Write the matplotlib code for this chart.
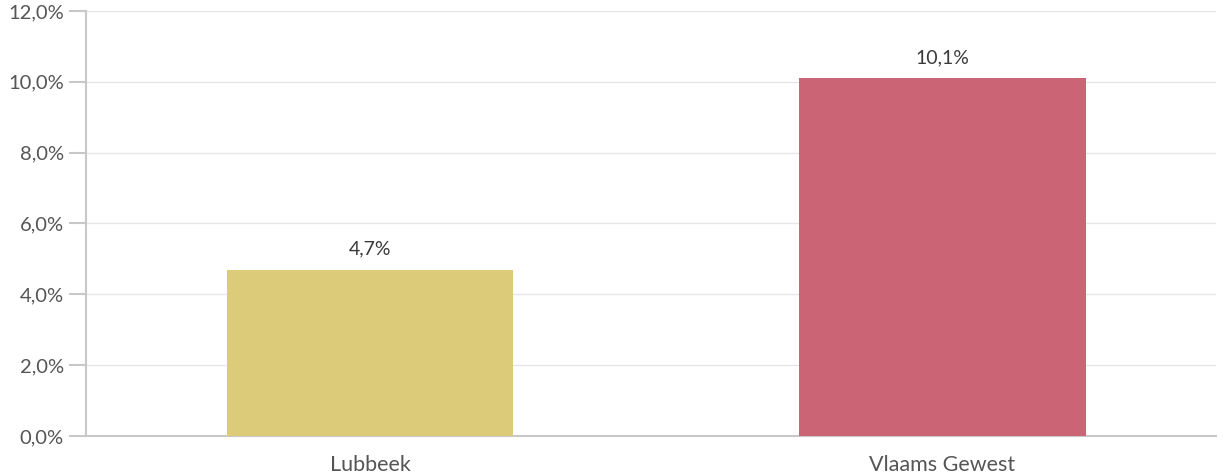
import matplotlib
matplotlib.use("Agg")
import matplotlib.pyplot as plt
from matplotlib.ticker import FuncFormatter

categories = ["Lubbeek", "Vlaams Gewest"]
values = [4.7, 10.1]
colors = ["#DCCB79", "#CB6575"]
yticks = [0, 2, 4, 6, 8, 10, 12]

plt.rcParams['font.family'] = ['Lato', 'DejaVu Sans']

fig = plt.figure(figsize=(12.26, 4.74), dpi=100)
ax = fig.add_axes([86/1226, 38/474, (1216-86)/1226, (436-11)/474])

x = list(range(len(categories)))
bars = ax.bar(x, values, width=0.5, color=colors, zorder=3)
for xi, v in zip(x, values):
    ax.text(xi, v + 0.35, f"{v:.1f}%".replace(".", ","), ha="center", va="bottom",
            fontsize=14, color="#3a3a3a")

ax.set_xlim(-0.497, 1.478)
ax.set_ylim(0, 12)
ax.set_yticks(yticks)
ax.yaxis.set_major_formatter(FuncFormatter(lambda v, p: f"{v:.1f}%".replace(".", ",")))
ax.set_xticks(x)
ax.set_xticklabels(categories)
ax.grid(axis="y", color="#e6e6e6", linewidth=1, zorder=0)
for s in ["top", "right"]:
    ax.spines[s].set_visible(False)
ax.spines["left"].set_color("#c8c8c8")
ax.spines["left"].set_linewidth(1.5)
ax.spines["bottom"].set_color("#c8c8c8")
ax.spines["bottom"].set_linewidth(1.5)
ax.tick_params(axis="y", length=12, width=1.5, color="#c8c8c8", labelsize=14.5,
               labelcolor="#555555", pad=4)
ax.tick_params(axis="x", length=0, labelsize=15.5, labelcolor="#555555", pad=14)

fig.savefig("out.png", dpi=100)
